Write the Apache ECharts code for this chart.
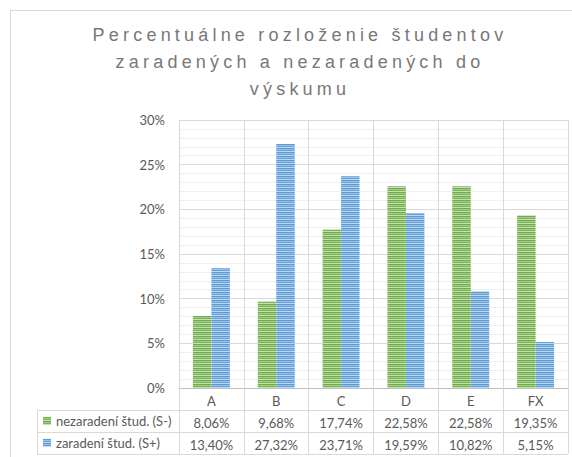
<!DOCTYPE html>
<html>
<head>
<meta charset="utf-8">
<script src="https://cdn.jsdelivr.net/npm/echarts@6/dist/echarts.min.js"></script>
<style>
  html, body { margin: 0; padding: 0; background: #fff; }
  #chart { width: 572px; height: 457px; }
</style>
</head>
<body>
<div id="chart"></div>
<script>
// ---- data ----
var titleLines = ['Percentuálne rozloženie študentov', 'zaradených a nezaradených do', 'výskumu'];
var categories = ['A', 'B', 'C', 'D', 'E', 'FX'];
var seriesNames = ['nezaradení štud. (S-)', 'zaradení štud. (S+)'];
var notIncluded = [8.06, 9.68, 17.74, 22.58, 22.58, 19.35];
var included = [13.40, 27.32, 23.71, 19.59, 10.82, 5.15];
var yTicks = [0, 5, 10, 15, 20, 25, 30];

function fmt(v) { return v.toFixed(2).replace('.', ',') + '%'; }

function stripe(rows) {
  var c = document.createElement('canvas');
  c.width = 4; c.height = rows.length;
  var ctx = c.getContext('2d');
  rows.forEach(function (col, i) { ctx.fillStyle = col; ctx.fillRect(0, i, 4, 1); });
  return { image: c.toDataURL(), repetition: 'repeat', imageWidth: 4, imageHeight: rows.length };
}
var greenPat = stripe(['#70AD47', '#A3CD86', '#7BB456', '#C5E0B4']);
var bluePat = stripe(['#5B9BD5', '#97C0E6', '#67A3D9', '#BDD7EE']);

var txt = '#595959';
var font = 'Lato';

var chart = echarts.init(document.getElementById('chart'), null, { renderer: 'svg' });
var option = {
  animation: false,
  backgroundColor: '#ffffff',
  title: {
    text: titleLines.join('\n'),
    left: 295,
    textAlign: 'center',
    top: 16,
    textStyle: { fontFamily: 'Liberation Sans', fontSize: 18, fontWeight: 'normal', color: '#787878', lineHeight: 27 }
  },
  legend: {
    orient: 'vertical',
    left: 43,
    top: 414,
    padding: 0,
    itemWidth: 8,
    itemHeight: 8,
    itemGap: 8,
    icon: 'rect',
    textStyle: { color: txt, fontSize: 13, fontFamily: font, lineHeight: 14 },
    data: seriesNames
  },
  grid: { left: 179, right: 4, top: 120, bottom: 69, containLabel: false },
  xAxis: [{
    type: 'category',
    data: categories,
    axisLine: { lineStyle: { color: '#bfbfbf' } },
    axisTick: { show: true, length: 66, lineStyle: { color: '#d9d9d9' } },
    splitLine: { show: true, lineStyle: { color: '#d9d9d9' } },
    axisLabel: { color: txt, fontSize: 13, fontFamily: font, margin: 6 }
  }, {
    type: 'category',
    data: notIncluded.map(fmt),
    position: 'bottom',
    offset: 22,
    axisLine: { show: false }, axisTick: { show: false }, splitLine: { show: false },
    axisLabel: { color: txt, fontSize: 13, fontFamily: font, margin: 6 }
  }, {
    type: 'category',
    data: included.map(fmt),
    position: 'bottom',
    offset: 44,
    axisLine: { show: false }, axisTick: { show: false }, splitLine: { show: false },
    axisLabel: { color: txt, fontSize: 13, fontFamily: font, margin: 6 }
  }],
  yAxis: {
    type: 'value',
    min: yTicks[0],
    max: yTicks[yTicks.length - 1],
    interval: 5,
    axisLine: { show: false },
    axisTick: { show: false },
    axisLabel: { color: txt, fontSize: 13, fontFamily: font, margin: 14, formatter: '{value}%' },
    splitLine: { lineStyle: { color: '#d9d9d9' } },
    minorTick: { show: false, splitNumber: 5 },
    minorSplitLine: { show: true, lineStyle: { color: '#f0f0f0' } }
  },
  series: [{
    name: seriesNames[0],
    type: 'bar',
    data: notIncluded,
    barGap: '0%',
    barCategoryGap: '43%',
    itemStyle: { color: greenPat }
  }, {
    name: seriesNames[1],
    type: 'bar',
    data: included,
    barGap: '0%',
    barCategoryGap: '43%',
    itemStyle: { color: bluePat }
  }],
  graphic: [
    { type: 'rect', silent: true, shape: { x: 10.5, y: 10.5, width: 700, height: 600 }, style: { fill: 'none', stroke: '#d9d9d9', lineWidth: 1 } },
    { type: 'line', silent: true, shape: { x1: 37, y1: 410.5, x2: 568, y2: 410.5 }, style: { stroke: '#d9d9d9', lineWidth: 1 } },
    { type: 'line', silent: true, shape: { x1: 37, y1: 432.5, x2: 568, y2: 432.5 }, style: { stroke: '#d9d9d9', lineWidth: 1 } },
    { type: 'line', silent: true, shape: { x1: 37, y1: 454.5, x2: 568, y2: 454.5 }, style: { stroke: '#d9d9d9', lineWidth: 1 } },
    { type: 'line', silent: true, shape: { x1: 37.5, y1: 410, x2: 37.5, y2: 455 }, style: { stroke: '#d9d9d9', lineWidth: 1 } }
  ]
};
chart.setOption(option);

function spaceTitle() {
  var texts = document.querySelectorAll('#chart text');
  texts.forEach(function (t) {
    if (titleLines.indexOf(t.textContent) >= 0) {
      t.style.letterSpacing = '4.2px';
    }
  });
}
spaceTitle();
chart.on('finished', spaceTitle);
setTimeout(spaceTitle, 50);
</script>
</body>
</html>
